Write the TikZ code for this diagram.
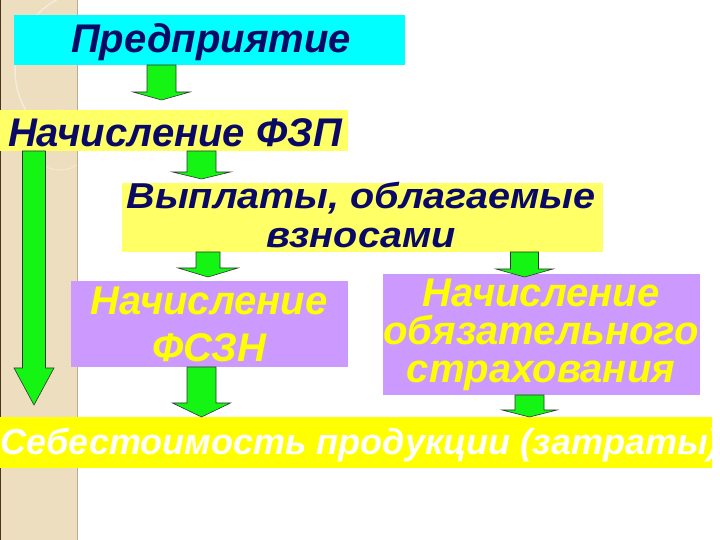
\documentclass[tikz,border=0pt]{standalone}
\usepackage{fontspec}
\setmainfont{Liberation Sans}
\newfontfamily\widesans[FakeStretch=1.1]{Liberation Sans}
\usetikzlibrary{calc}
\definecolor{navy}{RGB}{10,10,102}
\definecolor{cyanbox}{RGB}{0,255,255}
\definecolor{paleyellow}{RGB}{255,255,102}
\definecolor{brightyellow}{RGB}{255,255,0}
\definecolor{lilac}{RGB}{204,153,255}
\definecolor{yel}{RGB}{255,255,0}
\definecolor{arrgreen}{RGB}{20,245,20}
\definecolor{beige}{RGB}{236,222,190}
\definecolor{stripedge}{RGB}{190,170,140}
\newcommand\blockarr[7]{%
 \draw[barrow] let \p1=(#1.south), \p2=(#2.north) in
 ({(#3-#4)*1pt},\y1) -- ({(#3+#4)*1pt},\y1)
 -- ({(#3+#4)*1pt},{\y2+(#7)*1pt+(#6)*1pt}) -- ({(#3+#5)*1pt},{\y2+(#7)*1pt+(#6)*1pt})
 -- ({(#3)*1pt},{\y2+(#7)*1pt})
 -- ({(#3-#5)*1pt},{\y2+(#7)*1pt+(#6)*1pt}) -- ({(#3-#4)*1pt},{\y2+(#7)*1pt+(#6)*1pt}) -- cycle;}
\begin{document}
\begin{tikzpicture}[x=1pt,y=1pt,
  box/.style={rectangle, inner sep=0pt, outer sep=0pt, anchor=south west},
  txt/.style={inner sep=0pt, anchor=base, align=center},
  tf/.style 2 args={font=\fontsize{#1}{#2}\selectfont\bfseries\itshape},
  barrow/.style={fill=arrgreen, draw=black!80, line width=0.6pt, line join=miter}]
\useasboundingbox (0,0) rectangle (720,540);
\fill[white] (0,0) rectangle (720,540);
% left decorative strip
\fill[beige] (0,0) rectangle (78,540);
\begin{scope}
\clip (0,0) rectangle (78,540);
\draw[white, opacity=0.45, line width=1.5pt] (95,470) circle (80);
\draw[white, opacity=0.3, line width=1.2pt] (60,400) circle (30);
\end{scope}
\draw[stripedge, line width=1pt] (77.5,0) -- (77.5,540);
\draw[black!60!brown, line width=1pt] (0.5,0) -- (0.5,540);
% boxes
\node[box, fill=cyanbox, minimum width=391pt, minimum height=50pt] (pred) at (14,475) {};
\node[box, fill=paleyellow, minimum width=348pt, minimum height=41pt] (fzp) at (0,389) {};
\node[box, fill=paleyellow, minimum width=481pt, minimum height=69pt] (vypl) at (122,288) {};
\node[box, fill=lilac, minimum width=277pt, minimum height=86pt] (fszn) at (71,173) {};
\node[box, fill=lilac, minimum width=317pt, minimum height=121pt] (strah) at (383,145) {};
\node[box, fill=brightyellow, minimum width=712pt, minimum height=51pt] (seb) at (0,72) {};
% texts (base anchor = baseline of the last line)
\node[txt, tf={40}{40}, text=navy] (predT) at (211,487) {Предприятие};
\node[txt, tf={40}{40}, text=navy] (fzpT) at (175,393) {Начисление ФЗП};
\node[txt, font=\widesans\fontsize{36}{39}\selectfont\bfseries\itshape, text=navy] (vyplT) at (361,292) {Выплаты, облагаемые\\взносами};
\node[txt, tf={40}{47}, text=yel] (fsznT) at (209,178) {Начисление\\ФСЗН};
\node[txt, tf={40}{38}, text=yel] (strahT) at (541,157) {Начисление\\обязательного\\страхования};
\node[txt, tf={36}{36}, text=white] (sebT) at (360,85) {Себестоимость продукции (затраты)};
% block arrows
\blockarr{pred}{fzp}{161.5}{14.5}{28.5}{8}{10}
\blockarr{fzp}{vypl}{201.5}{14.5}{29}{7}{4}
\blockarr{vypl}{fszn}{208}{12}{30}{9}{4}
\blockarr{vypl}{strah}{524.5}{14}{28.5}{8}{-3}
\blockarr{fszn}{seb}{201.5}{14.5}{29}{14}{0}
\blockarr{strah}{seb}{529.5}{14.5}{27.5}{7}{0}
\blockarr{fzp}{seb}{34}{11.5}{20}{37}{12}
\end{tikzpicture}
\end{document}
